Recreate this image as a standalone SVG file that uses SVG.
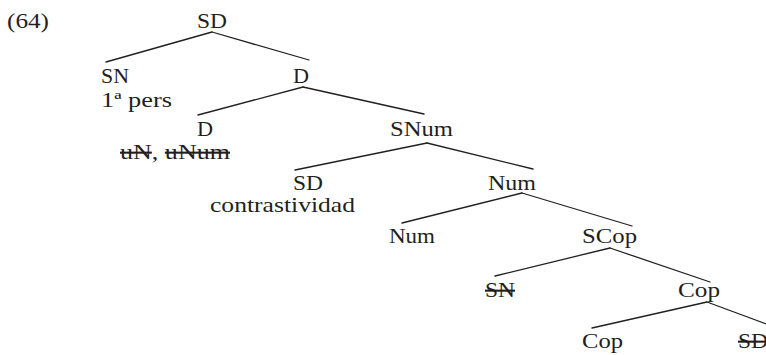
<svg xmlns="http://www.w3.org/2000/svg" width="766" height="355" viewBox="0 0 766 355">
  <style>
    .lbl { font-family: "Liberation Serif", "Times New Roman", serif; font-size: 21px; fill: #231f20; }
    .del { text-decoration: line-through; }
    .edge { stroke: #231f20; stroke-width: 1.3; fill: none; stroke-linecap: round; }
  </style>
  <rect width="766" height="355" fill="#ffffff"/>

  <!-- example number -->
  <text class="lbl" x="7" y="28" textLength="42" lengthAdjust="spacingAndGlyphs">(64)</text>

  <!-- tree branches -->
  <g id="connectors">
    <path class="edge" d="M212,32 L106,62"/>
    <path class="edge" d="M212,32 L309,60"/>
    <path class="edge" d="M303,87 L198,115"/>
    <path class="edge" d="M303,87 L424,114"/>
    <path class="edge" d="M427,143 L295,170"/>
    <path class="edge" d="M427,143 L533,169"/>
    <path class="edge" d="M522,193 L402,223"/>
    <path class="edge" d="M522,193 L632,226"/>
    <path class="edge" d="M610,248 L495,276"/>
    <path class="edge" d="M610,248 L710,282"/>
    <path class="edge" d="M707,302 L592,328"/>
    <path class="edge" d="M707,302 L780,329"/>
  </g>

  <!-- tree nodes -->
  <g id="n-sd-root">
    <text class="lbl" x="197" y="28" textLength="30" lengthAdjust="spacingAndGlyphs">SD</text>
  </g>
  <g id="n-sn-spec">
    <text class="lbl" x="101" y="83" textLength="28" lengthAdjust="spacingAndGlyphs">SN</text>
    <text class="lbl" x="101" y="107" textLength="71" lengthAdjust="spacingAndGlyphs">1ª pers</text>
  </g>
  <g id="n-dbar">
    <text class="lbl" x="293" y="83" textLength="16" lengthAdjust="spacingAndGlyphs">D</text>
  </g>
  <g id="n-d-head">
    <text class="lbl" x="197" y="136" textLength="16" lengthAdjust="spacingAndGlyphs">D</text>
    <text class="lbl" x="120" y="159" textLength="110" lengthAdjust="spacingAndGlyphs"><tspan class="del">uN</tspan>, <tspan class="del">uNum</tspan></text>
  </g>
  <g id="n-snum">
    <text class="lbl" x="390" y="136" textLength="63" lengthAdjust="spacingAndGlyphs">SNum</text>
  </g>
  <g id="n-sd-contrast">
    <text class="lbl" x="293" y="190" textLength="30" lengthAdjust="spacingAndGlyphs">SD</text>
    <text class="lbl" x="210" y="212" textLength="145" lengthAdjust="spacingAndGlyphs">contrastividad</text>
  </g>
  <g id="n-numbar">
    <text class="lbl" x="488" y="190" textLength="48" lengthAdjust="spacingAndGlyphs">Num</text>
  </g>
  <g id="n-num-head">
    <text class="lbl" x="389" y="243" textLength="46" lengthAdjust="spacingAndGlyphs">Num</text>
  </g>
  <g id="n-scop">
    <text class="lbl" x="582" y="243" textLength="55" lengthAdjust="spacingAndGlyphs">SCop</text>
  </g>
  <g id="n-sn-trace">
    <text class="lbl del" x="485" y="297" textLength="30" lengthAdjust="spacingAndGlyphs">SN</text>
  </g>
  <g id="n-copbar">
    <text class="lbl" x="678" y="297" textLength="42" lengthAdjust="spacingAndGlyphs">Cop</text>
  </g>
  <g id="n-cop-head">
    <text class="lbl" x="582" y="348" textLength="41" lengthAdjust="spacingAndGlyphs">Cop</text>
  </g>
  <g id="n-sd-trace">
    <text class="lbl del" x="738" y="348" textLength="30" lengthAdjust="spacingAndGlyphs">SD</text>
  </g>
</svg>
